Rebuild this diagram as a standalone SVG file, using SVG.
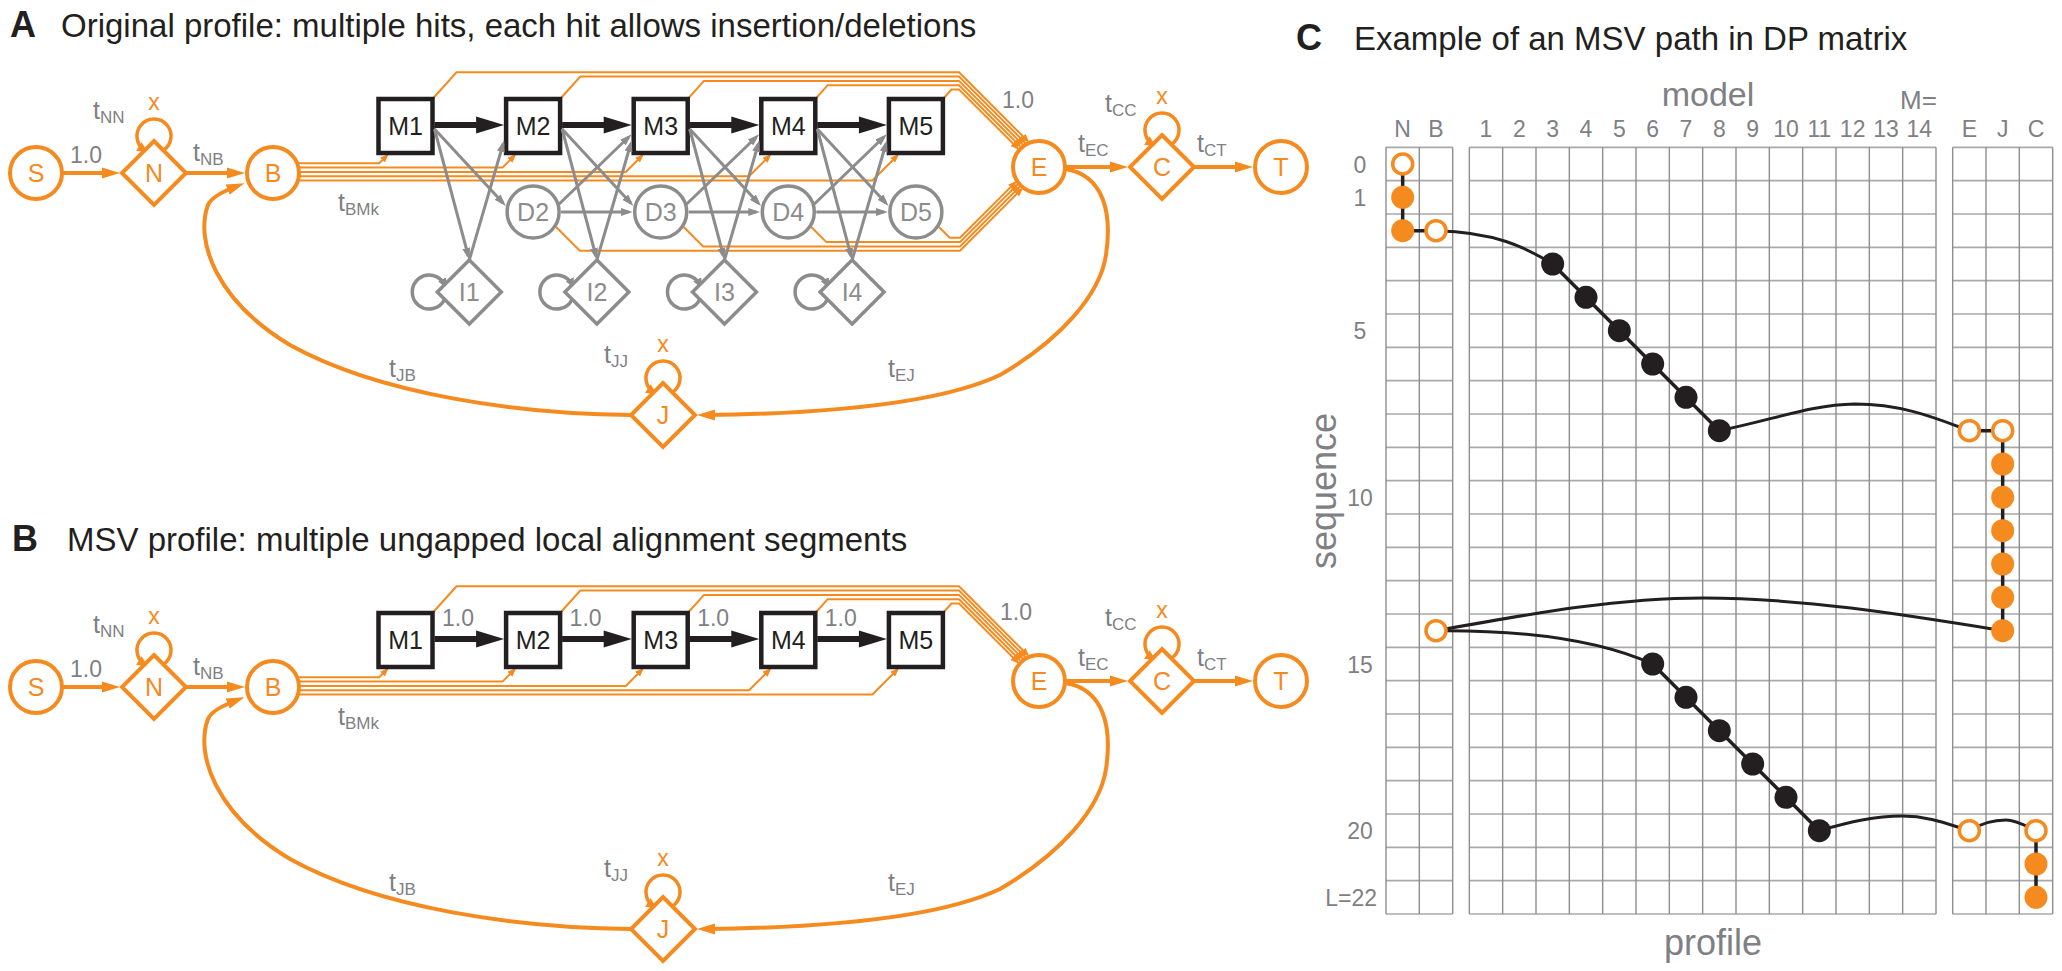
<svg xmlns="http://www.w3.org/2000/svg" width="2062" height="971" viewBox="0 0 2062 971">
<defs>
<style>
text{font-family:"Liberation Sans",Arial,Helvetica,sans-serif}
.ttl{font-size:33px;fill:#231F20}
.let{font-size:36px;font-weight:bold;fill:#231F20}
.lab{font-size:25px;text-anchor:middle}
.on{fill:#fff;stroke:#F58A1F;stroke-width:4}
.ol{fill:#F58A1F}
.gn{fill:#fff;stroke:#8C8C8C;stroke-width:3.5}
.gl{fill:#8C8C8C}
.mn{fill:#fff;stroke:#231F20;stroke-width:4.5}
.ml{fill:#231F20}
.tl{font-size:25px;fill:#7F8083}
.sub{font-size:17px}
.num{font-size:23px;fill:#7F8083}
.xl{font-size:23px;fill:#F58A1F;text-anchor:middle}
.ot{fill:none;stroke:#F58A1F;stroke-width:2}
.oT{fill:none;stroke:#F58A1F;stroke-width:4}
.lp{fill:none;stroke:#F58A1F;stroke-width:3.5}
.gt{fill:none;stroke:#8C8C8C;stroke-width:3}
.glp{fill:none;stroke:#8C8C8C;stroke-width:3.5}
.bk{fill:#231F20}
.gv{fill:none;stroke:#8E8E8E;stroke-width:1.4}
.gh{fill:none;stroke:#A9A9A9;stroke-width:1.6}
.cl{font-size:23px;fill:#7F8083;text-anchor:middle}
.big{font-size:36px;fill:#7F8083;text-anchor:middle}
.pk{fill:none;stroke:#231F20;stroke-width:3.5}
.pc{fill:none;stroke:#231F20;stroke-width:3}
.dk{fill:#231F20}
.df{fill:#F58A1F}
.dopen{fill:#fff;stroke:#F58A1F;stroke-width:3.5}
</style>
<marker id="ao" markerUnits="userSpaceOnUse" viewBox="0 0 18 12" markerWidth="18" markerHeight="12" refX="10" refY="6" orient="auto"><path d="M0,0.5 L18,6 L0,11.5z" fill="#F58A1F"/></marker>
<marker id="as" markerUnits="userSpaceOnUse" viewBox="0 0 9 7" markerWidth="9" markerHeight="7" refX="6" refY="3.5" orient="auto"><path d="M0,0 L9,3.5 L0,7z" fill="#F58A1F"/></marker>
<marker id="al" markerUnits="userSpaceOnUse" viewBox="0 0 11 10" markerWidth="11" markerHeight="10" refX="7" refY="5" orient="auto"><path d="M0,0 L11,5 L0,10z" fill="#F58A1F"/></marker>
<marker id="ag" markerUnits="userSpaceOnUse" viewBox="0 0 12 8" markerWidth="12" markerHeight="8" refX="8" refY="4" orient="auto"><path d="M0,0 L12,4 L0,8z" fill="#8C8C8C"/></marker>
<marker id="alg" markerUnits="userSpaceOnUse" viewBox="0 0 10 9" markerWidth="10" markerHeight="9" refX="6" refY="4.5" orient="auto"><path d="M0,0 L10,4.5 L0,9z" fill="#8C8C8C"/></marker>
</defs>
<rect width="2062" height="971" fill="#fff"/>

<!-- Titles -->
<g id="titles">
<text class="let" x="10" y="37">A</text>
<text class="ttl" x="61" y="37">Original profile: multiple hits, each hit allows insertion/deletions</text>
<text class="let" x="12" y="551">B</text>
<text class="ttl" x="67" y="551">MSV profile: multiple ungapped local alignment segments</text>
<text class="let" x="1296" y="50">C</text>
<text class="ttl" x="1354" y="50">Example of an MSV path in DP matrix</text>
</g>

<!-- ============ PANEL A ============ -->
<g id="A-connectors-orange">
<path class="oT" d="M62,173H112" marker-end="url(#ao)"/>
<path class="oT" d="M186,173H237" marker-end="url(#ao)"/>
<path class="oT" d="M1065,167H1120" marker-end="url(#ao)"/>
<path class="oT" d="M1194,167H1245" marker-end="url(#ao)"/>
<path class="oT" d="M1065,169 C1105,175 1112,215 1106,255 C1100,295 1060,340 1000,375 C930,408 800,414 705,415" marker-end="url(#ao)"/>
<path class="oT" d="M631,415 C520,414 380,395 290,345 C215,300 195,240 208,205 C211,197 224,191 237,186" marker-end="url(#ao)"/>
<path class="lp" d="M163.3,150.3 A17,17 0 1,0 144.7,150.3" marker-end="url(#al)"/>
<path class="lp" d="M1171.3,144.3 A17,17 0 1,0 1152.7,144.3" marker-end="url(#al)"/>
<path class="lp" d="M672.3,392.3 A17,17 0 1,0 653.7,392.3" marker-end="url(#al)"/>
<!-- M -> E -->
<path class="ot" d="M432.5,99 L456.5,72.3 H959 L1027.2,140.5" marker-end="url(#as)"/>
<path class="ot" d="M560.1,99 L580.3,76.6 H959 L1024.4,142" marker-end="url(#as)"/>
<path class="ot" d="M687.7,99 L704,80.9 H959 L1021.8,143.7" marker-end="url(#as)"/>
<path class="ot" d="M815.3,99 L827.7,85.2 H959 L1019.4,145.6" marker-end="url(#as)"/>
<path class="ot" d="M942.9,99 L951.5,89.5 H959 L1017.3,147.8" marker-end="url(#as)"/>
<!-- B -> Mk -->
<path class="ot" d="M297,163.3 H379.2 L386.5,156" marker-end="url(#as)"/>
<path class="ot" d="M297,167.6 H502.5 L514.1,156" marker-end="url(#as)"/>
<path class="ot" d="M297,171.9 H625.8 L641.7,156" marker-end="url(#as)"/>
<path class="ot" d="M297,176.2 H749.1 L769.3,156" marker-end="url(#as)"/>
<path class="ot" d="M297,180.5 H872.4 L896.9,156" marker-end="url(#as)"/>
<!-- D -> E -->
<path class="ot" d="M556.1,227 L579.8,250.7 H960 L1021,189.7" marker-end="url(#as)"/>
<path class="ot" d="M683.7,227 L703.1,246.4 H960 L1018.7,187.7" marker-end="url(#as)"/>
<path class="ot" d="M811.3,227 L826.4,242.1 H960 L1016.6,185.4" marker-end="url(#as)"/>
<path class="ot" d="M938.9,227 L949.7,237.8 H960 L1014.8,182.9" marker-end="url(#as)"/>
</g>

<g id="A-labels">
<text class="xl" x="154" y="110">x</text>
<text class="xl" x="1162" y="104">x</text>
<text class="xl" x="663" y="352">x</text>
<text class="tl" x="93" y="119">t<tspan class="sub" dy="4">NN</tspan></text>
<text class="tl" x="193" y="161">t<tspan class="sub" dy="4">NB</tspan></text>
<text class="tl" x="338" y="211">t<tspan class="sub" dy="4">BMk</tspan></text>
<text class="tl" x="1078" y="152">t<tspan class="sub" dy="4">EC</tspan></text>
<text class="tl" x="1197" y="152">t<tspan class="sub" dy="4">CT</tspan></text>
<text class="tl" x="1105" y="112">t<tspan class="sub" dy="4">CC</tspan></text>
<text class="tl" x="604" y="363">t<tspan class="sub" dy="4">JJ</tspan></text>
<text class="tl" x="389" y="377">t<tspan class="sub" dy="4">JB</tspan></text>
<text class="tl" x="888" y="377">t<tspan class="sub" dy="4">EJ</tspan></text>
<text class="num" x="70" y="163">1.0</text>
<text class="num" x="1002" y="108">1.0</text>
</g>

<g id="A-S"><circle class="on" cx="36" cy="173" r="26"/><text class="lab ol" x="36" y="182">S</text></g>
<g id="A-N"><polygon class="on" points="154,141 186,173 154,205 122,173"/><text class="lab ol" x="154" y="182">N</text></g>
<g id="A-B"><circle class="on" cx="273" cy="173" r="26"/><text class="lab ol" x="273" y="182">B</text></g>
<g id="A-E"><circle class="on" cx="1039" cy="167" r="26"/><text class="lab ol" x="1039" y="176">E</text></g>
<g id="A-C"><polygon class="on" points="1162,135 1194,167 1162,199 1130,167"/><text class="lab ol" x="1162" y="176">C</text></g>
<g id="A-T"><circle class="on" cx="1281" cy="167" r="26"/><text class="lab ol" x="1281" y="176">T</text></g>
<g id="A-J"><polygon class="on" points="663,383 695,415 663,447 631,415"/><text class="lab ol" x="663" y="424">J</text></g>

<g id="A-M1"><rect class="mn" x="378.5" y="99" width="54" height="54"/><text class="lab ml" x="405.5" y="135">M1</text></g>
<g id="A-M2"><rect class="mn" x="506.1" y="99" width="54" height="54"/><text class="lab ml" x="533.1" y="135">M2</text></g>
<g id="A-M3"><rect class="mn" x="633.7" y="99" width="54" height="54"/><text class="lab ml" x="660.7" y="135">M3</text></g>
<g id="A-M4"><rect class="mn" x="761.3" y="99" width="54" height="54"/><text class="lab ml" x="788.3" y="135">M4</text></g>
<g id="A-M5"><rect class="mn" x="888.9" y="99" width="54" height="54"/><text class="lab ml" x="915.9" y="135">M5</text></g>

<g id="A-D2"><circle class="gn" cx="533.1" cy="212" r="26"/><text class="lab gl" x="533.1" y="221">D2</text></g>
<g id="A-D3"><circle class="gn" cx="660.7" cy="212" r="26"/><text class="lab gl" x="660.7" y="221">D3</text></g>
<g id="A-D4"><circle class="gn" cx="788.3" cy="212" r="26"/><text class="lab gl" x="788.3" y="221">D4</text></g>
<g id="A-D5"><circle class="gn" cx="915.9" cy="212" r="26"/><text class="lab gl" x="915.9" y="221">D5</text></g>

<g id="A-I1"><path class="glp" d="M444.6,299.3 A17,17 0 1,1 444.6,284.7" marker-end="url(#alg)"/><polygon class="gn" points="469.3,260 501.3,292 469.3,324 437.3,292"/><text class="lab gl" x="469.3" y="301">I1</text></g>
<g id="A-I2"><path class="glp" d="M572.2,299.3 A17,17 0 1,1 572.2,284.7" marker-end="url(#alg)"/><polygon class="gn" points="596.9,260 628.9,292 596.9,324 564.9,292"/><text class="lab gl" x="596.9" y="301">I2</text></g>
<g id="A-I3"><path class="glp" d="M699.8,299.3 A17,17 0 1,1 699.8,284.7" marker-end="url(#alg)"/><polygon class="gn" points="724.5,260 756.5,292 724.5,324 692.5,292"/><text class="lab gl" x="724.5" y="301">I3</text></g>
<g id="A-I4"><path class="glp" d="M827.4,299.3 A17,17 0 1,1 827.4,284.7" marker-end="url(#alg)"/><polygon class="gn" points="852.1,260 884.1,292 852.1,324 820.1,292"/><text class="lab gl" x="852.1" y="301">I4</text></g>

<g id="A-connectors-core">
<polygon class="bk" points="434.5,122 476.1,122 476.1,116.5 504.1,125 476.1,133.5 476.1,128 434.5,128"/>
<polygon class="bk" points="562.1,122 603.7,122 603.7,116.5 631.7,125 603.7,133.5 603.7,128 562.1,128"/>
<polygon class="bk" points="689.7,122 731.3,122 731.3,116.5 759.3,125 731.3,133.5 731.3,128 689.7,128"/>
<polygon class="bk" points="817.3,122 858.9,122 858.9,116.5 886.9,125 858.9,133.5 858.9,128 817.3,128"/>
<g marker-end="url(#ag)">
<path class="gt" d="M434.5,129 L503.1,203"/>
<path class="gt" d="M562.1,129 L630.7,203"/>
<path class="gt" d="M689.7,129 L758.3,203"/>
<path class="gt" d="M817.3,129 L885.9,203"/>
<path class="gt" d="M434.5,129 L468.3,256"/>
<path class="gt" d="M562.1,129 L595.9,256"/>
<path class="gt" d="M689.7,129 L723.5,256"/>
<path class="gt" d="M817.3,129 L851.1,256"/>
<path class="gt" d="M469.3,260 L503.1,144"/>
<path class="gt" d="M596.9,260 L630.7,144"/>
<path class="gt" d="M724.5,260 L758.3,144"/>
<path class="gt" d="M852.1,260 L885.9,144"/>
<path class="gt" d="M558.1,205 L628.7,137"/>
<path class="gt" d="M685.7,205 L756.3,137"/>
<path class="gt" d="M813.3,205 L883.9,137"/>
<path class="gt" d="M561.1,212 L628.7,212"/>
<path class="gt" d="M688.7,212 L756.3,212"/>
<path class="gt" d="M816.3,212 L883.9,212"/>
</g>
</g>

<!-- ============ PANEL B ============ -->
<g id="B-connectors-orange">
<path class="oT" d="M62,687H112" marker-end="url(#ao)"/>
<path class="oT" d="M186,687H237" marker-end="url(#ao)"/>
<path class="oT" d="M1065,681H1120" marker-end="url(#ao)"/>
<path class="oT" d="M1194,681H1245" marker-end="url(#ao)"/>
<path class="oT" d="M1065,683 C1105,689 1112,729 1106,769 C1100,809 1060,854 1000,889 C930,922 800,928 705,929" marker-end="url(#ao)"/>
<path class="oT" d="M631,929 C520,928 380,909 290,859 C215,814 195,754 208,719 C211,711 224,705 237,700" marker-end="url(#ao)"/>
<path class="lp" d="M163.3,664.3 A17,17 0 1,0 144.7,664.3" marker-end="url(#al)"/>
<path class="lp" d="M1171.3,658.3 A17,17 0 1,0 1152.7,658.3" marker-end="url(#al)"/>
<path class="lp" d="M672.3,906.3 A17,17 0 1,0 653.7,906.3" marker-end="url(#al)"/>
<path class="ot" d="M432.5,613 L456.5,586.3 H959 L1027.2,654.5" marker-end="url(#as)"/>
<path class="ot" d="M560.1,613 L580.3,590.6 H959 L1024.4,656" marker-end="url(#as)"/>
<path class="ot" d="M687.7,613 L704,594.9 H959 L1021.8,657.7" marker-end="url(#as)"/>
<path class="ot" d="M815.3,613 L827.7,599.2 H959 L1019.4,659.6" marker-end="url(#as)"/>
<path class="ot" d="M942.9,613 L951.5,603.5 H959 L1017.3,661.8" marker-end="url(#as)"/>
<path class="ot" d="M297,677.3 H379.2 L386.5,670" marker-end="url(#as)"/>
<path class="ot" d="M297,681.6 H502.5 L514.1,670" marker-end="url(#as)"/>
<path class="ot" d="M297,685.9 H625.8 L641.7,670" marker-end="url(#as)"/>
<path class="ot" d="M297,690.2 H749.1 L769.3,670" marker-end="url(#as)"/>
<path class="ot" d="M297,694.5 H872.4 L896.9,670" marker-end="url(#as)"/>
</g>

<g id="B-labels">
<text class="xl" x="154" y="624">x</text>
<text class="xl" x="1162" y="618">x</text>
<text class="xl" x="663" y="866">x</text>
<text class="tl" x="93" y="633">t<tspan class="sub" dy="4">NN</tspan></text>
<text class="tl" x="193" y="675">t<tspan class="sub" dy="4">NB</tspan></text>
<text class="tl" x="338" y="725">t<tspan class="sub" dy="4">BMk</tspan></text>
<text class="tl" x="1078" y="666">t<tspan class="sub" dy="4">EC</tspan></text>
<text class="tl" x="1197" y="666">t<tspan class="sub" dy="4">CT</tspan></text>
<text class="tl" x="1105" y="626">t<tspan class="sub" dy="4">CC</tspan></text>
<text class="tl" x="604" y="877">t<tspan class="sub" dy="4">JJ</tspan></text>
<text class="tl" x="389" y="891">t<tspan class="sub" dy="4">JB</tspan></text>
<text class="tl" x="888" y="891">t<tspan class="sub" dy="4">EJ</tspan></text>
<text class="num" x="70" y="677">1.0</text>
<text class="num" x="1000" y="620">1.0</text>
<text class="num" x="442" y="626">1.0</text>
<text class="num" x="569.6" y="626">1.0</text>
<text class="num" x="697.2" y="626">1.0</text>
<text class="num" x="824.8" y="626">1.0</text>
</g>

<g id="B-S"><circle class="on" cx="36" cy="687" r="26"/><text class="lab ol" x="36" y="696">S</text></g>
<g id="B-N"><polygon class="on" points="154,655 186,687 154,719 122,687"/><text class="lab ol" x="154" y="696">N</text></g>
<g id="B-B"><circle class="on" cx="273" cy="687" r="26"/><text class="lab ol" x="273" y="696">B</text></g>
<g id="B-E"><circle class="on" cx="1039" cy="681" r="26"/><text class="lab ol" x="1039" y="690">E</text></g>
<g id="B-C"><polygon class="on" points="1162,649 1194,681 1162,713 1130,681"/><text class="lab ol" x="1162" y="690">C</text></g>
<g id="B-T"><circle class="on" cx="1281" cy="681" r="26"/><text class="lab ol" x="1281" y="690">T</text></g>
<g id="B-J"><polygon class="on" points="663,897 695,929 663,961 631,929"/><text class="lab ol" x="663" y="938">J</text></g>

<g id="B-M1"><rect class="mn" x="378.5" y="613" width="54" height="54"/><text class="lab ml" x="405.5" y="649">M1</text></g>
<g id="B-M2"><rect class="mn" x="506.1" y="613" width="54" height="54"/><text class="lab ml" x="533.1" y="649">M2</text></g>
<g id="B-M3"><rect class="mn" x="633.7" y="613" width="54" height="54"/><text class="lab ml" x="660.7" y="649">M3</text></g>
<g id="B-M4"><rect class="mn" x="761.3" y="613" width="54" height="54"/><text class="lab ml" x="788.3" y="649">M4</text></g>
<g id="B-M5"><rect class="mn" x="888.9" y="613" width="54" height="54"/><text class="lab ml" x="915.9" y="649">M5</text></g>

<g id="B-connectors-core">
<polygon class="bk" points="434.5,636 476.1,636 476.1,630.5 504.1,639 476.1,647.5 476.1,642 434.5,642"/>
<polygon class="bk" points="562.1,636 603.7,636 603.7,630.5 631.7,639 603.7,647.5 603.7,642 562.1,642"/>
<polygon class="bk" points="689.7,636 731.3,636 731.3,630.5 759.3,639 731.3,647.5 731.3,642 689.7,642"/>
<polygon class="bk" points="817.3,636 858.9,636 858.9,630.5 886.9,639 858.9,647.5 858.9,642 817.3,642"/>
</g>

<!-- ============ PANEL C ============ -->
<g id="C-grid">
<path class="gh" d="M1386,147.33H1452.67M1469.33,147.33H1936M1952.67,147.33H2052.67
M1386,180.67H1452.67M1469.33,180.67H1936M1952.67,180.67H2052.67
M1386,214H1452.67M1469.33,214H1936M1952.67,214H2052.67
M1386,247.33H1452.67M1469.33,247.33H1936M1952.67,247.33H2052.67
M1386,280.67H1452.67M1469.33,280.67H1936M1952.67,280.67H2052.67
M1386,314H1452.67M1469.33,314H1936M1952.67,314H2052.67
M1386,347.33H1452.67M1469.33,347.33H1936M1952.67,347.33H2052.67
M1386,380.67H1452.67M1469.33,380.67H1936M1952.67,380.67H2052.67
M1386,414H1452.67M1469.33,414H1936M1952.67,414H2052.67
M1386,447.33H1452.67M1469.33,447.33H1936M1952.67,447.33H2052.67
M1386,480.67H1452.67M1469.33,480.67H1936M1952.67,480.67H2052.67
M1386,514H1452.67M1469.33,514H1936M1952.67,514H2052.67
M1386,547.33H1452.67M1469.33,547.33H1936M1952.67,547.33H2052.67
M1386,580.67H1452.67M1469.33,580.67H1936M1952.67,580.67H2052.67
M1386,614H1452.67M1469.33,614H1936M1952.67,614H2052.67
M1386,647.33H1452.67M1469.33,647.33H1936M1952.67,647.33H2052.67
M1386,680.67H1452.67M1469.33,680.67H1936M1952.67,680.67H2052.67
M1386,714H1452.67M1469.33,714H1936M1952.67,714H2052.67
M1386,747.33H1452.67M1469.33,747.33H1936M1952.67,747.33H2052.67
M1386,780.67H1452.67M1469.33,780.67H1936M1952.67,780.67H2052.67
M1386,814H1452.67M1469.33,814H1936M1952.67,814H2052.67
M1386,847.33H1452.67M1469.33,847.33H1936M1952.67,847.33H2052.67
M1386,880.67H1452.67M1469.33,880.67H1936M1952.67,880.67H2052.67
M1386,914H1452.67M1469.33,914H1936M1952.67,914H2052.67"/>
<path class="gv" d="M1386,147.33V914M1419.33,147.33V914M1452.67,147.33V914
M1469.33,147.33V914M1502.67,147.33V914M1536,147.33V914M1569.33,147.33V914M1602.67,147.33V914M1636,147.33V914M1669.33,147.33V914M1702.67,147.33V914M1736,147.33V914M1769.33,147.33V914M1802.67,147.33V914M1836,147.33V914M1869.33,147.33V914M1902.67,147.33V914M1936,147.33V914
M1952.67,147.33V914M1986,147.33V914M2019.33,147.33V914M2052.67,147.33V914"/>
</g>

<g id="C-labels">
<text class="big" x="1708" y="106" style="font-size:34px">model</text>
<text class="num" x="1900" y="109" style="font-size:26px">M=</text>
<text class="big" x="1713" y="955">profile</text>
<text class="big" transform="translate(1336,491) rotate(-90)">sequence</text>
<text class="cl" x="1402.67" y="137.3">N</text>
<text class="cl" x="1436" y="137.3">B</text>
<text class="cl" x="1486" y="137.3">1</text>
<text class="cl" x="1519.33" y="137.3">2</text>
<text class="cl" x="1552.67" y="137.3">3</text>
<text class="cl" x="1586" y="137.3">4</text>
<text class="cl" x="1619.33" y="137.3">5</text>
<text class="cl" x="1652.67" y="137.3">6</text>
<text class="cl" x="1686" y="137.3">7</text>
<text class="cl" x="1719.33" y="137.3">8</text>
<text class="cl" x="1752.67" y="137.3">9</text>
<text class="cl" x="1786" y="137.3">10</text>
<text class="cl" x="1819.33" y="137.3">11</text>
<text class="cl" x="1852.67" y="137.3">12</text>
<text class="cl" x="1886" y="137.3">13</text>
<text class="cl" x="1919.33" y="137.3">14</text>
<text class="cl" x="1969.33" y="137.3">E</text>
<text class="cl" x="2002.67" y="137.3">J</text>
<text class="cl" x="2036" y="137.3">C</text>
<text class="cl" x="1360" y="172.5">0</text>
<text class="cl" x="1360" y="205.8">1</text>
<text class="cl" x="1360" y="339">5</text>
<text class="cl" x="1360" y="505.8">10</text>
<text class="cl" x="1360" y="672.5">15</text>
<text class="cl" x="1360" y="839">20</text>
<text class="cl" x="1377" y="905.8" style="text-anchor:end">L=22</text>
</g>

<g id="C-path">
<path class="pk" d="M1402.67,164V230.67H1436"/>
<path class="pc" d="M1436,230.67 C1495,232 1525,247 1552.67,264"/>
<path class="pk" d="M1552.67,264 L1719.33,430.67"/>
<path class="pc" d="M1719.33,430.67 C1780,418 1810,405 1855,404 C1905,404 1940,420 1969.33,430.67"/>
<path class="pk" d="M1969.33,430.67H2002.67V630.67"/>
<path class="pc" d="M2002.67,630.67 C1900,614 1800,598 1704,598 C1620,598 1540,612 1436,630.67"/>
<path class="pc" d="M1436,630.67 C1510,630 1590,636 1652.67,664"/>
<path class="pk" d="M1652.67,664 L1819.33,830.67"/>
<path class="pc" d="M1819.33,830.67 C1850,822 1875,816 1902,816 C1930,816 1950,825 1969.33,830.67"/>
<path class="pc" d="M1969.33,830.67 C1985,821 1998,820 2006,820 C2016,820 2026,826 2036,830.67"/>
<path class="pk" d="M2036,830.67V897.33"/>
</g>

<g id="C-cells">
<circle class="dopen" cx="1402.67" cy="164" r="10"/>
<circle class="df" cx="1402.67" cy="197.33" r="11.5"/>
<circle class="df" cx="1402.67" cy="230.67" r="11.5"/>
<circle class="dopen" cx="1436" cy="230.67" r="10"/>
<circle class="dk" cx="1552.67" cy="264" r="11.5"/>
<circle class="dk" cx="1586" cy="297.33" r="11.5"/>
<circle class="dk" cx="1619.33" cy="330.67" r="11.5"/>
<circle class="dk" cx="1652.67" cy="364" r="11.5"/>
<circle class="dk" cx="1686" cy="397.33" r="11.5"/>
<circle class="dk" cx="1719.33" cy="430.67" r="11.5"/>
<circle class="dopen" cx="1969.33" cy="430.67" r="10"/>
<circle class="dopen" cx="2002.67" cy="430.67" r="10"/>
<circle class="df" cx="2002.67" cy="464" r="11.5"/>
<circle class="df" cx="2002.67" cy="497.33" r="11.5"/>
<circle class="df" cx="2002.67" cy="530.67" r="11.5"/>
<circle class="df" cx="2002.67" cy="564" r="11.5"/>
<circle class="df" cx="2002.67" cy="597.33" r="11.5"/>
<circle class="df" cx="2002.67" cy="630.67" r="11.5"/>
<circle class="dopen" cx="1436" cy="630.67" r="10"/>
<circle class="dk" cx="1652.67" cy="664" r="11.5"/>
<circle class="dk" cx="1686" cy="697.33" r="11.5"/>
<circle class="dk" cx="1719.33" cy="730.67" r="11.5"/>
<circle class="dk" cx="1752.67" cy="764" r="11.5"/>
<circle class="dk" cx="1786" cy="797.33" r="11.5"/>
<circle class="dk" cx="1819.33" cy="830.67" r="11.5"/>
<circle class="dopen" cx="1969.33" cy="830.67" r="10"/>
<circle class="dopen" cx="2036" cy="830.67" r="10"/>
<circle class="df" cx="2036" cy="864" r="11.5"/>
<circle class="df" cx="2036" cy="897.33" r="11.5"/>
</g>
</svg>
